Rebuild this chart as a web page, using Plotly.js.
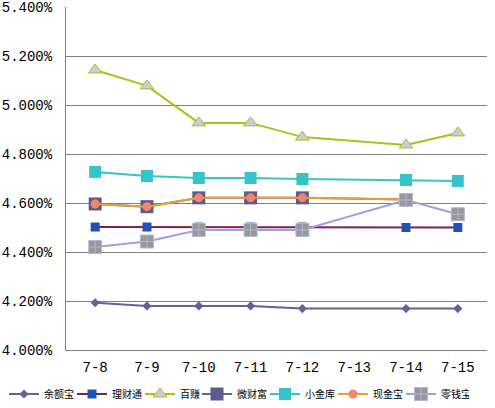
<!DOCTYPE html>
<html>
<head>
<meta charset="utf-8">
<script src="https://cdn.plot.ly/plotly-3.0.1.min.js"></script>
<style>
  html, body { margin: 0; padding: 0; background: #fff; }
  #plot { width: 495px; height: 408px; }
</style>
</head>
<body>
<div id="plot"></div>
<script>
// dates on the x axis (7-13 has no readings, lines bridge it)
var days = ['7-8', '7-9', '7-10', '7-11', '7-12', '7-13', '7-14', '7-15']

// 7-day yields, in %
var yuebao     = [4.193, 4.180, 4.180, 4.180, 4.169, null, 4.169, 4.169]
var licaitong  = [4.502, 4.502, 4.502, 4.502, 4.502, null, 4.500, 4.500]
var baizhuan   = [5.143, 5.078, 4.927, 4.927, 4.869, null, 4.837, 4.886]
var weicaifu   = [4.596, 4.585, 4.621, 4.621, 4.621, null, 4.614, null]
var xiaojinku  = [4.727, 4.710, 4.702, 4.702, 4.698, null, 4.694, 4.690]
var xianjinbao = [4.596, 4.585, 4.621, 4.621, 4.621, null, 4.614, null]
var lingqianbao = [4.420, 4.443, 4.490, 4.490, 4.490, null, 4.612, 4.554]

var tickFont = {family: 'Liberation Mono', size: 14, color: '#000'}

function series(name, y, lineColor, symbol, size, fill, edge, lw) {
   return {
      name: name,
      x: days,
      y: y,
      mode: 'lines+markers',
      connectgaps: true,
      line: {color: lineColor, width: 2},
      marker: {symbol: symbol, size: size, color: fill,
               line: {color: edge, width: lw}},
      legendwidth: name.length == 2 ? 12 : 23,
      hoverinfo: 'x+y'
   }
}

var traces = [
   series('余额宝', yuebao, '#62629a', 'diamond', 7, '#62629a', '#62629a', 0),
   series('理财通', licaitong, '#7a2150', 'square', 9, '#1f52b8', '#1f52b8', 0),
   series('百赚', baizhuan, '#a4c41c', 'triangle-up', 12, '#c8ccdc', '#a4c41c', 1),
   series('微财富', weicaifu, '#62629a', 'square', 13, '#5e5a8e', '#5e5a8e', 0),
   series('小金库', xiaojinku, '#35c4c8', 'square', 12, '#35c4c8', '#35c4c8', 0),
   series('现金宝', xianjinbao, '#eea02e', 'circle', 9, '#f4846a', '#f4846a', 0),
   series('零钱宝', lingqianbao, '#a09ce8', 'square-cross', 13, '#989898', '#b4b4d8', 1)
]

var layout = {
   width: 495,
   height: 408,
   margin: {l: 66, r: 8, t: 7, b: 58, autoexpand: false},
   paper_bgcolor: '#fff',
   plot_bgcolor: '#fff',
   showlegend: true,
   xaxis: {
      type: 'category',
      showgrid: false,
      showline: true,
      linecolor: '#808080',
      linewidth: 1,
      ticks: '',
      tickfont: tickFont,
      ticklabelstandoff: 4,
      fixedrange: true
   },
   yaxis: {
      range: [4.0, 5.4],
      dtick: 0.2,
      tick0: 4.0,
      tickformat: '.3f',
      ticksuffix: '%',
      showgrid: true,
      gridcolor: '#808080',
      gridwidth: 1,
      showline: true,
      linecolor: '#808080',
      linewidth: 1,
      zeroline: false,
      ticks: '',
      tickfont: tickFont,
      ticklabelstandoff: 10,
      ticklabeloverflow: 'allow',
      fixedrange: true
   },
   legend: {
      orientation: 'h',
      xref: 'paper',
      yref: 'paper',
      x: -62 / 421,
      xanchor: 'left',
      y: -44 / 343,
      yanchor: 'middle',
      font: {family: 'Noto Sans CJK SC', size: 10, color: '#000'},
      bgcolor: 'rgba(0,0,0,0)',
      itemclick: false,
      traceorder: 'normal'
   }
}

Plotly.newPlot('plot', traces, layout, {displayModeBar: false, staticPlot: true})
</script>
</body>
</html>
